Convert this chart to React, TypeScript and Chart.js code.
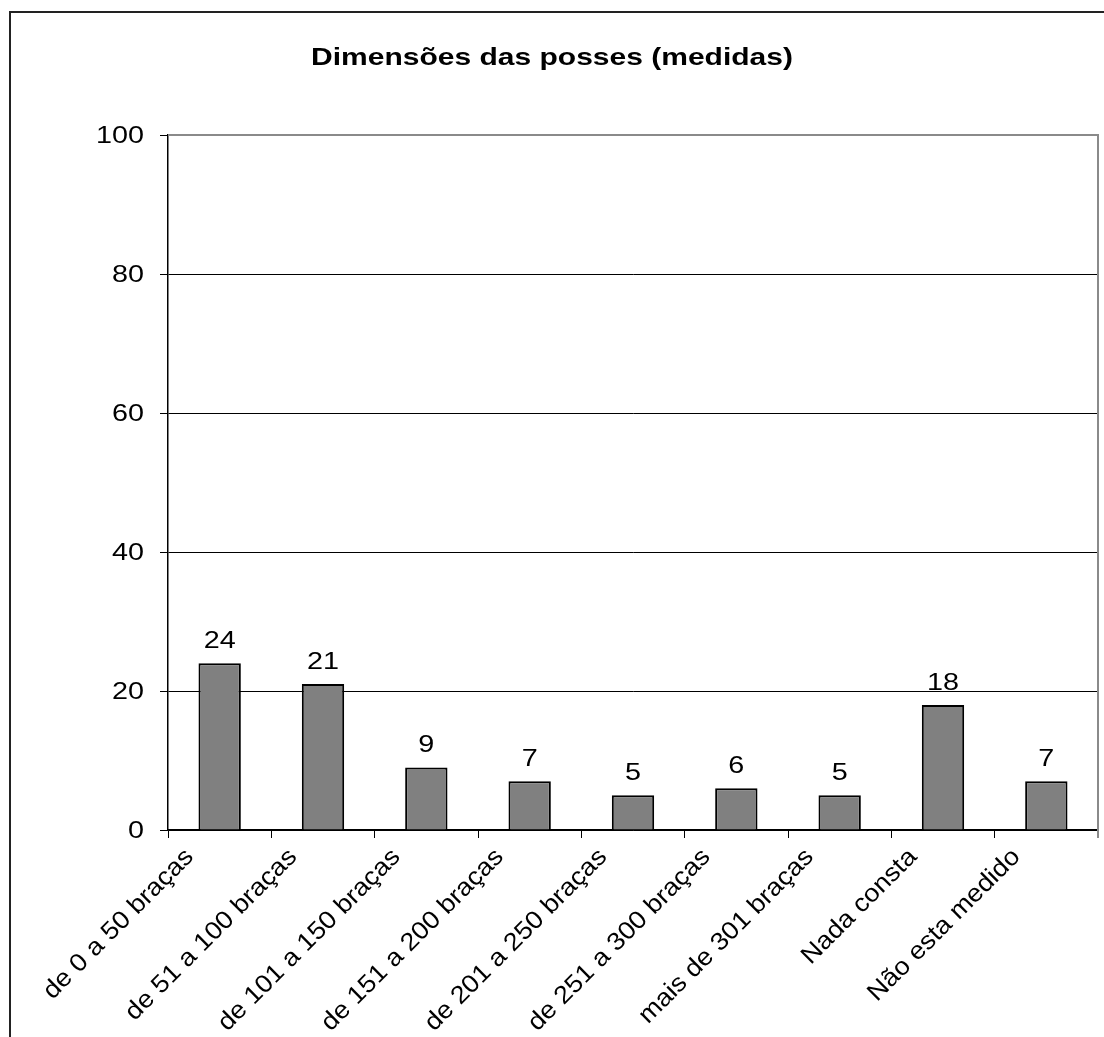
import { useEffect, useRef } from "react";
import { Chart, registerables } from "chart.js";

Chart.register(...registerables);

const TITLE = "Dimensões das posses (medidas)";
const CATEGORIES = [
  "de 0 a 50 braças",
  "de 51 a 100 braças",
  "de 101 a 150 braças",
  "de 151 a 200 braças",
  "de 201 a 250 braças",
  "de 251 a 300 braças",
  "mais de 301 braças",
  "Nada consta",
  "Não esta medido",
];
const VALUES = [24, 21, 9, 7, 5, 6, 5, 18, 7];
const Y_MIN = 0;
const Y_MAX = 100;
const Y_STEP = 20;

const WIDTH = 1104;
const HEIGHT = 1037;
const FONT = '"Liberation Sans", Arial, sans-serif';

type TextOpts = {
  size: number;
  bold?: boolean;
  align: CanvasTextAlign;
  angle?: number;
  stretch: number; // horizontal widening of the face
};

function wideText(ctx: CanvasRenderingContext2D, text: string, x: number, y: number, o: TextOpts) {
  ctx.save();
  ctx.translate(x, y);
  if (o.angle) ctx.rotate(o.angle);
  ctx.scale(o.stretch, 1);
  ctx.font = `${o.bold ? "bold " : ""}${o.size}px ${FONT}`;
  ctx.textAlign = o.align;
  ctx.textBaseline = "alphabetic";
  ctx.fillStyle = "#000";
  ctx.fillText(text, 0, 0);
  ctx.restore();
}

const TICK = 8;

const labelsPlugin = {
  id: "wideLabels",
  afterDraw(chart: any) {
    const { ctx, chartArea, scales } = chart;
    const xs = scales.x;
    const ys = scales.y;

    // grey plot-area border on the top and right sides
    ctx.save();
    ctx.strokeStyle = "#8a8a8a";
    ctx.lineWidth = 2;
    ctx.beginPath();
    ctx.moveTo(chartArea.left, chartArea.top);
    ctx.lineTo(chartArea.right, chartArea.top);
    ctx.lineTo(chartArea.right, chartArea.bottom + TICK);
    ctx.stroke();
    ctx.restore();

    wideText(ctx, TITLE, chart.width / 2, 65, { size: 24, bold: true, align: "center", stretch: 1.25 });

    ys.ticks.forEach((t: any) => {
      wideText(ctx, String(t.value), chartArea.left - 24, ys.getPixelForValue(t.value) + 8, {
        size: 23,
        align: "right",
        stretch: 1.25,
      });
    });

    CATEGORIES.forEach((c, i) => {
      wideText(ctx, c, xs.getPixelForTick(i) - 25, chartArea.bottom + 28, {
        size: 25,
        align: "right",
        angle: -Math.PI / 4,
        stretch: 1.08,
      });
    });

    const meta = chart.getDatasetMeta(0);
    meta.data.forEach((bar: any, i: number) => {
      wideText(ctx, String(VALUES[i]), bar.x, bar.y - 15, { size: 23, align: "center", stretch: 1.25 });
    });
  },
};

export default function App() {
  const ref = useRef<HTMLCanvasElement | null>(null);

  useEffect(() => {
    if (!ref.current) return;
    const chart = new Chart(ref.current, {
      type: "bar",
      data: {
        labels: CATEGORIES,
        datasets: [
          {
            data: VALUES,
            backgroundColor: "#808080",
            borderColor: "#000",
            borderWidth: 2,
            categoryPercentage: 1,
            barPercentage: 0.41,
          },
        ],
      },
      options: {
        animation: false,
        responsive: false,
        devicePixelRatio: 1,
        layout: { padding: { top: 135, right: 6, left: 0, bottom: 0 } },
        plugins: {
          legend: { display: false },
          title: { display: false },
          tooltip: { enabled: false },
        },
        scales: {
          x: {
            grid: {
              offset: true,
              drawOnChartArea: false,
              drawTicks: true,
              tickLength: TICK,
              color: "#000",
              lineWidth: 1,
            },
            border: { color: "#000", width: 1.5 },
            ticks: { display: false },
            afterFit: (s: any) => {
              s.height = 207;
            },
          },
          y: {
            min: Y_MIN,
            max: Y_MAX,
            ticks: { stepSize: Y_STEP, display: false },
            grid: { color: "#000", lineWidth: 1, tickLength: TICK },
            border: { color: "#000", width: 1.5 },
            afterFit: (s: any) => {
              s.width = 168;
            },
          },
        },
      },
      plugins: [labelsPlugin],
    });
    return () => chart.destroy();
  }, []);

  return (
    <div
      style={{
        position: "fixed",
        left: 0,
        top: 0,
        width: WIDTH,
        height: HEIGHT,
        overflow: "hidden",
        background: "#fff",
      }}
    >
      <div
        style={{
          position: "absolute",
          left: 9,
          top: 11,
          width: 1200,
          height: 1100,
          borderTop: "2px solid #222",
          borderLeft: "2px solid #222",
        }}
      />
      <canvas
        ref={ref}
        width={WIDTH}
        height={HEIGHT}
        style={{ position: "absolute", left: 0, top: 0, width: WIDTH, height: HEIGHT }}
      />
    </div>
  );
}
